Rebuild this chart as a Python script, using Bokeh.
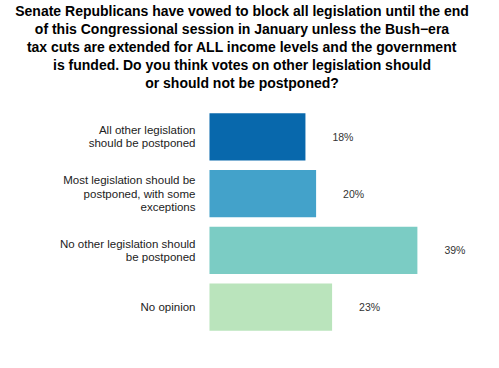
from bokeh.plotting import figure
from bokeh.models import ColumnDataSource, FactorRange, Range1d, Title
from bokeh.embed import file_html
from bokeh.resources import INLINE
from bokeh.core.properties import value

categories = [
    "All other legislation\nshould be postponed",
    "Most legislation should be\npostponed, with some\nexceptions",
    "No other legislation should\nbe postponed",
    "No opinion",
]
values = [18, 20, 39, 23]
value_labels = ["18%", "20%", "39%", "23%"]
colors = ["#0868ac", "#43a2ca", "#7bccc4", "#bae4bc"]
title_lines = [
    "Senate Republicans have vowed to block all legislation until the end",
    "of this Congressional session in January unless the Bush\u2212era",
    "tax cuts are extended for ALL income levels and the government",
    "is funded. Do you think votes on other legislation should",
    "or should not be postponed?",
]

source = ColumnDataSource(dict(cat=categories, val=values, lab=value_labels, color=colors,
                               zero=[0] * len(values)))

FONT = "Liberation Sans"

p = figure(width=483, height=352, title=None,
           x_range=Range1d(-39.2, 51.4),
           y_range=FactorRange(factors=categories[::-1], range_padding=0),
           output_backend="svg", toolbar_location=None,
           x_axis_location=None, y_axis_location=None,
           min_border_left=0, min_border_right=0, min_border_top=105, min_border_bottom=17)
p.grid.visible = False
p.outline_line_color = None

# spacer between the title block and the bars
p.add_layout(Title(text=" ", text_font=FONT, text_font_size="14px", standoff=0), "above")
for line in reversed(title_lines):
    p.add_layout(Title(text=line, align="center", text_font=FONT, text_font_size="14px",
                       text_font_style="bold", text_color="#000000", standoff=0), "above")

p.hbar(y="cat", left=0, right="val", height=0.83, color="color", line_color=None, source=source)

p.text(x="zero", y="cat", text="cat", x_offset=-14, text_align="right", text_baseline="middle",
       text_font=value(FONT), text_font_size="11.5px", text_color="#222222",
       text_line_height=1.1, source=source)

p.text(x="val", y="cat", text="lab", x_offset=27, text_align="left", text_baseline="middle",
       text_font=value(FONT), text_font_size="10.5px", text_color="#333333", source=source)

open("out.html", "w").write(file_html(p, INLINE))
